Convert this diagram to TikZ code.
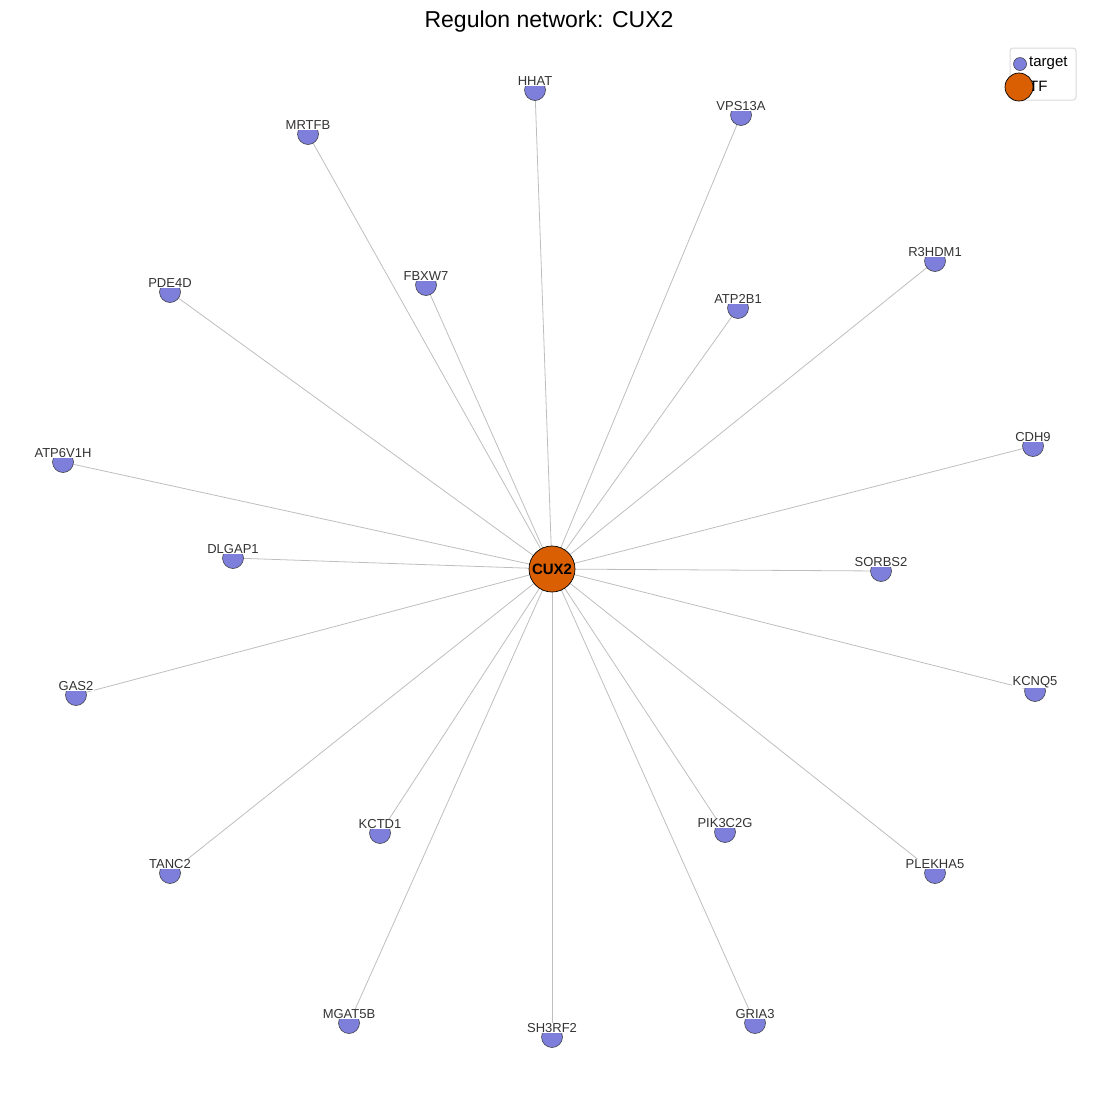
\documentclass[tikz,border=0pt]{standalone}
\usepackage{fontspec}
\setmainfont{Liberation Sans}
\usetikzlibrary{backgrounds}
\definecolor{tfcol}{RGB}{217,95,2}
\definecolor{tgcol}{RGB}{125,127,218}
\definecolor{edgecol}{RGB}{190,190,190}
\definecolor{lblcol}{RGB}{51,51,51}
\tikzset{target/.style = {circle, draw=black!80, line width=0.5pt, fill=tgcol,
                          minimum size=21pt, inner sep=0pt},
         tf/.style = {circle, draw=black, line width=0.7pt, fill=tfcol,
                      minimum size=46pt, inner sep=0pt,
                      font=\fontsize{15}{15}\selectfont\bfseries},
         lbl/.style = {fill=white, inner sep=0.5pt, text=lblcol,
                       font=\fontsize{13}{13}\selectfont},
         edge/.style = {draw=edgecol, line width=0.8pt}}

\begin{document}
\begin{tikzpicture}[x=1pt,y=-1pt]
    \useasboundingbox (0,0) rectangle (1097,1096);
    \node[font=\fontsize{23}{23}\selectfont] (title) at (549,22) {Regulon network: CUX2};

    \node[tf] (CUX2) at (552,569) {CUX2};
    \foreach \name/\x/\y in {HHAT/535/90, VPS13A/741/115, MRTFB/308/134,
                             R3HDM1/935/261, FBXW7/426/285, PDE4D/170/292,
                             ATP2B1/738/308, CDH9/1033/446, ATP6V1H/63/462,
                             DLGAP1/233/558, SORBS2/881/571, KCNQ5/1035/691,
                             GAS2/76/695, KCTD1/380/833, PIK3C2G/725/832,
                             TANC2/170/873, PLEKHA5/935/873, MGAT5B/349/1023,
                             SH3RF2/552/1037, GRIA3/755/1023} {
        \node[target] (\name) at (\x,\y) {};
        \node[lbl] (\name-lbl) at (\x,\y-9) {\name};
        \begin{pgfonlayer}{background}
            \draw[edge] (CUX2.center) -- (\name.center);
        \end{pgfonlayer}
    }

    % legend
    \node[draw=black!15, line width=1pt, rounded corners=3pt,
          minimum width=66pt, minimum height=52pt] (legend) at (1043,74) {};
    \node[anchor=west, inner sep=0pt, font=\fontsize{15}{15}\selectfont] (target-txt) at (1029,63) {target};
    \node[anchor=west, inner sep=0pt, font=\fontsize{15}{15}\selectfont] (tf-txt) at (1029,86) {TF};
    \node[target, minimum size=13pt] (target-key) at (1020,64) {};
    \node[tf, minimum size=28pt] (tf-key) at (1019,87) {};
\end{tikzpicture}
\end{document}
